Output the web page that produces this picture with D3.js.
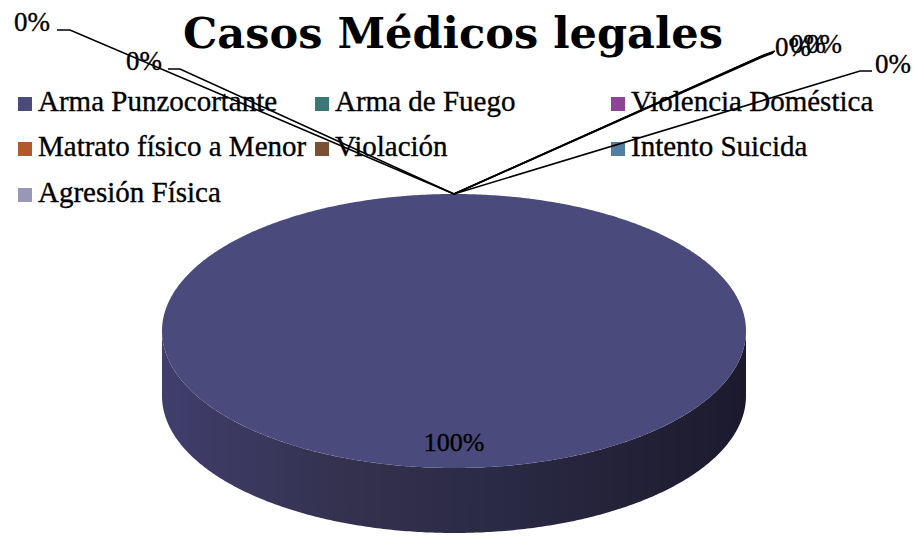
<!DOCTYPE html>
<html>
<head>
<meta charset="utf-8">
<script src="https://cdn.jsdelivr.net/npm/d3@7"></script>
<style>
  html, body { margin: 0; padding: 0; background: #ffffff; }
  svg { display: block; }
  .thick { stroke: #000; stroke-width: 0.35px; }
</style>
</head>
<body>
<svg id="chart" width="914" height="537"></svg>
<script>
// ---------- data ----------
const title = "Casos Médicos legales";
const categories = [
  "Arma Punzocortante", "Arma de Fuego", "Violencia Doméstica",
  "Matrato físico a Menor", "Violación", "Intento Suicida", "Agresión Física"
];
const values = [100, 0, 0, 0, 0, 0, 0];
const colors = ["#4a4a7c", "#3d7676", "#8e4494", "#b2582a", "#7b5035", "#4f7fa1", "#9997b6"];

// ---------- layout (not data) ----------
const W = 914, H = 537;
const geom = { cx: 454, cy: 331, rx: 292, ry: 137, depth: 65 };
const legendCols = [18, 315, 611];
const legendRows = [97, 142, 188];
// manual placement of the colliding 0% labels (text pos, knee, end of leader)
const zeroLabelLayout = [
  { tx: 14,  ty: 31, kx: 70,  ky: 30, ex: 57,  ey: 30 },
  { tx: 126, ty: 70, kx: 180, ky: 69, ex: 168, ey: 69 },
  { tx: 775, ty: 56, kx: 760, ky: 58, ex: 773, ey: 53 },
  { tx: 790, ty: 53, kx: 762, ky: 56, ex: 774, ey: 52 },
  { tx: 806, ty: 53, kx: 764, ky: 55, ex: 775, ey: 51 },
  { tx: 875, ty: 73, kx: 860, ky: 71, ex: 872, ey: 71 }
];

const svg = d3.select("#chart");
const serif = "'Liberation Serif', 'Times New Roman', serif";

// ---------- title ----------
const t = svg.append("text")
  .attr("x", 453).attr("y", 48)
  .attr("text-anchor", "middle")
  .style("font-family", "'DejaVu Serif', serif")
  .style("font-weight", "bold")
  .style("font-size", "40px")
  .attr("fill", "#000")
  .text(title);
const tw = t.node().getComputedTextLength();
t.style("font-size", (40 * 540 / tw).toFixed(2) + "px");

// ---------- legend ----------
const color = d3.scaleOrdinal().domain(categories).range(colors);
const leg = svg.append("g");
categories.forEach((c, i) => {
  const col = i % 3, row = Math.floor(i / 3);
  const g = leg.append("g").attr("transform", `translate(${legendCols[col]},${legendRows[row]})`);
  g.append("rect").attr("width", 14).attr("height", 14).attr("fill", color(c));
  g.append("text").attr("x", 20).attr("y", 14).attr("class", "thick")
    .style("font-family", serif).style("font-size", "29px")
    .attr("fill", "#000").text(c);
});

// ---------- 3D pie ----------
const total = d3.sum(values);
const pie = d3.pie().sort(null).value(d => d);
const arcs = pie(values);
const pt = (a, dy = 0) => [geom.cx + geom.rx * Math.sin(a), geom.cy - geom.ry * Math.cos(a) + dy];

function ellArc(a0, a1, dy) {
  const n = Math.max(2, Math.ceil(Math.abs(a1 - a0) / 0.01));
  return d3.range(n + 1).map(k => pt(a0 + (a1 - a0) * k / n, dy));
}

const defs = svg.append("defs");
const grad = defs.append("linearGradient").attr("id", "sideGrad")
  .attr("gradientUnits", "userSpaceOnUse")
  .attr("x1", geom.cx - geom.rx).attr("x2", geom.cx + geom.rx)
  .attr("y1", 0).attr("y2", 0);
grad.append("stop").attr("offset", "0%").attr("stop-color", "#403e6c");
grad.append("stop").attr("offset", "30%").attr("stop-color", "#34324f");
grad.append("stop").attr("offset", "60%").attr("stop-color", "#2a2943");
grad.append("stop").attr("offset", "100%").attr("stop-color", "#1b1a2d");

const line = d3.line();
const pieG = svg.append("g");

// side walls (visible front half: angles between PI/2 and 3PI/2)
arcs.forEach((d, i) => {
  const a0 = Math.max(d.startAngle, Math.PI / 2);
  const a1 = Math.min(d.endAngle, 3 * Math.PI / 2);
  if (a1 <= a0) return;
  const top = ellArc(a0, a1, 0);
  const bot = ellArc(a1, a0, geom.depth);
  pieG.append("path")
    .attr("d", line(top.concat(bot)) + "Z")
    .attr("fill", i === 0 ? "url(#sideGrad)" : d3.color(color(categories[i])).darker(1));
});

// top faces
arcs.forEach((d, i) => {
  if (d.endAngle - d.startAngle <= 0) return;
  const full = d.endAngle - d.startAngle >= 2 * Math.PI - 1e-9;
  const pts = ellArc(d.startAngle, d.endAngle, 0);
  const path = full ? line(pts) + "Z" : "M" + geom.cx + "," + geom.cy + line(pts).replace(/^M/, "L") + "Z";
  pieG.append("path").attr("d", path).attr("fill", color(categories[i]));
});

// ---------- data labels ----------
const fmt = v => d3.format(".0%")(v / total);
let zi = 0;
arcs.forEach((d, i) => {
  const mid = (d.startAngle + d.endAngle) / 2;
  if (d.value > 0) {
    const r = 0.8;
    const x = geom.cx + geom.rx * r * Math.sin(mid);
    const y = geom.cy - geom.ry * r * Math.cos(mid);
    svg.append("text").attr("x", x).attr("y", y + 10).attr("class", "thick")
      .attr("text-anchor", "middle")
      .style("font-family", serif).style("font-size", "26px")
      .attr("fill", "#000").text(fmt(d.value));
  } else {
    const L = zeroLabelLayout[zi++];
    const anchor = pt(mid, 0);
    svg.append("path")
      .attr("d", line([anchor, [L.kx, L.ky], [L.ex, L.ey]]))
      .attr("fill", "none").attr("stroke", "#000").attr("stroke-width", 1.6);
    svg.append("text").attr("x", L.tx).attr("y", L.ty).attr("class", "thick")
      .style("font-family", serif).style("font-size", "27px")
      .attr("fill", "#000").text(fmt(d.value));
  }
});
</script>
</body>
</html>
